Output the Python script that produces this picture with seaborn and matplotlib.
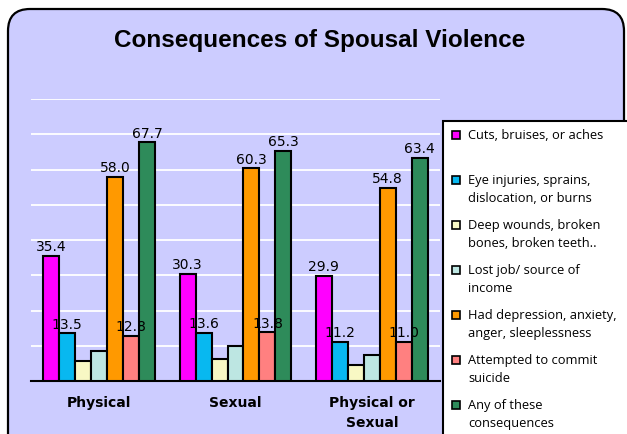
import matplotlib.pyplot as plt
import matplotlib.patches as mpatches
import pandas as pd
import seaborn as sns

# data
groups = ["Physical", "Sexual", "Physical or\nSexual"]
series = [
    "Cuts, bruises, or aches",
    "Eye injuries, sprains,\ndislocation, or burns",
    "Deep wounds, broken\nbones, broken teeth..",
    "Lost job/ source of\nincome",
    "Had depression, anxiety,\nanger, sleeplessness",
    "Attempted to commit\nsuicide",
    "Any of these\nconsequences",
]
cuts = [35.4, 30.3, 29.9]
eye = [13.5, 13.6, 11.2]
deep = [5.7, 6.2, 4.5]
lost_job = [8.5, 9.9, 7.4]
depression = [58.0, 60.3, 54.8]
suicide = [12.8, 13.8, 11.0]
any_of = [67.7, 65.3, 63.4]
labelled = [True, True, False, False, True, True, True]
colors = ["#FF00FF", "#08B8F0", "#F8F8C4", "#BDE6E2", "#FF9900", "#FF8080", "#2E8B5A"]

values = [cuts, eye, deep, lost_job, depression, suicide, any_of]
rows = []
for name, vals in zip(series, values):
    for g, v in zip(groups, vals):
        rows.append({"Group": g, "Consequence": name, "Percent": v})
df = pd.DataFrame(rows)

BG = "#CCCCFF"

sns.set_style("white")
fig = plt.figure(figsize=(6.27, 4.35), dpi=100)
fig.patch.set_facecolor("white")

# rounded chart frame (pixel coordinates)
frame = mpatches.FancyBboxPatch((8, -30), 616, 455,
                                boxstyle="round,pad=0,rounding_size=22",
                                transform=None, facecolor=BG,
                                edgecolor="black", linewidth=1.6, zorder=0)
fig.add_artist(frame)

ax = fig.add_axes([31 / 627, 53 / 435, 409 / 627, 282 / 435])
ax.set_facecolor(BG)
sns.barplot(data=df, x="Group", y="Percent", hue="Consequence",
            order=groups, hue_order=series, palette=colors, saturation=1,
            edgecolor="black", linewidth=1.5, width=0.82,
            legend=False, ax=ax, zorder=3)

for cont, show in zip(ax.containers, labelled):
    if show:
        ax.bar_label(cont, fmt="%.1f", padding=2, fontsize=10,
                     color="black", zorder=4)

ax.set_ylim(0, 80)
ax.set_xlim(-0.5, 2.5)
ax.set_yticks(range(0, 81, 10))
ax.yaxis.grid(True, color="white", linewidth=1.3, zorder=0)
ax.set_axisbelow(True)
ax.tick_params(axis="y", left=False, labelleft=False)
ax.set_xticks([-0.5, 0.5, 1.5, 2.5], minor=True)
ax.tick_params(axis="x", which="major", length=0, pad=10)
ax.tick_params(axis="x", which="minor", length=5, width=1.3, direction="out")
ax.set_xticklabels(groups, fontsize=10, fontweight="bold", family="DejaVu Sans",
                   linespacing=1.6, color="black")
ax.set_xlabel("")
ax.set_ylabel("")
for side in ["left", "right", "top"]:
    ax.spines[side].set_visible(False)
ax.spines["bottom"].set_color("black")
ax.spines["bottom"].set_linewidth(1.5)

fig.text(320 / 627, 1 - 40 / 435, "Consequences of Spousal Violence",
         ha="center", va="center", fontsize=17.5, fontweight="bold",
         family="Liberation Sans", color="black")

# legend box
leg_box = mpatches.Rectangle((443, -20), 200, 435 - 122 + 20, transform=None,
                             facecolor="white", edgecolor="black",
                             linewidth=1.5, zorder=2)
fig.add_artist(leg_box)
for i, (name, col) in enumerate(zip(series, colors)):
    y = 435 - 136 - i * 45
    fig.add_artist(mpatches.Rectangle((452, y - 4), 8, 8, transform=None,
                                      facecolor=col, edgecolor="black",
                                      linewidth=1.2, zorder=3))
    fig.text(468 / 627, (y + 7) / 435, name, ha="left", va="top",
             fontsize=9.3, family="Open Sans", linespacing=1.55,
             color="black", zorder=4)

fig.savefig("out.png", dpi=100, facecolor="white")
